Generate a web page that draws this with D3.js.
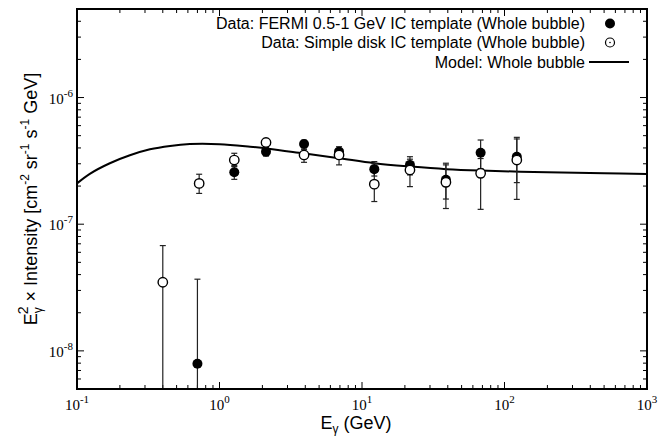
<!DOCTYPE html>
<html>
<head>
<meta charset="utf-8">
<script src="https://cdn.jsdelivr.net/npm/d3@7"></script>
<style>
  body { margin: 0; background: #fff; }
  svg { display: block; }
  .tick-label { font-family: "Liberation Serif", "DejaVu Serif", serif; font-size: 15px; }
  .txt { font-family: "Liberation Sans", Arial, sans-serif; font-size: 16px; }
  .title { font-family: "Liberation Sans", Arial, sans-serif; font-size: 18px; }
</style>
</head>
<body>
<svg id="plot1" width="666" height="436"></svg>
<script>
// model curve (GeV, E^2 x intensity)
var modelEnergy = [0.1, 0.123, 0.17, 0.235, 0.325, 0.45, 0.62, 1.0, 1.64, 2.2, 3.86, 6.9, 12.2, 22, 39, 68, 200, 500, 1000];
var modelValues = [2.10e-7, 2.50e-7, 3.03e-7, 3.50e-7, 3.90e-7, 4.15e-7, 4.29e-7, 4.28e-7, 4.09e-7, 3.95e-7, 3.63e-7, 3.32e-7, 3.03e-7, 2.85e-7, 2.72e-7, 2.65e-7, 2.57e-7, 2.52e-7, 2.49e-7];

// FERMI 0.5-1 GeV IC template (filled)
var fermiEnergy = [0.7, 1.27, 2.12, 3.92, 6.9, 12.2, 21.7, 38.8, 68, 122];
var fermiValues = [7.9e-9, 2.57e-7, 3.74e-7, 4.30e-7, 3.74e-7, 2.72e-7, 2.94e-7, 2.24e-7, 3.67e-7, 3.41e-7];
var fermiLow    = [1e-10, 2.26e-7, 3.45e-7, 4.0e-7, 3.35e-7, 2.4e-7, 2.45e-7, 1.58e-7, 2.75e-7, 2.13e-7];
var fermiHigh   = [3.68e-8, 2.9e-7, 4.05e-7, 4.6e-7, 4.09e-7, 3.12e-7, 3.41e-7, 2.94e-7, 4.62e-7, 4.71e-7];

// Simple disk IC template (open)
var diskEnergy = [0.4, 0.72, 1.27, 2.12, 3.92, 6.9, 12.2, 21.7, 38.8, 68, 122];
var diskValues = [3.48e-8, 2.10e-7, 3.21e-7, 4.42e-7, 3.52e-7, 3.52e-7, 2.07e-7, 2.68e-7, 2.14e-7, 2.52e-7, 3.21e-7];
var diskLow    = [1e-10, 1.75e-7, 2.85e-7, 4.1e-7, 3.08e-7, 2.94e-7, 1.51e-7, 1.98e-7, 1.33e-7, 1.31e-7, 1.57e-7];
var diskHigh   = [6.78e-8, 2.48e-7, 3.63e-7, 4.75e-7, 3.9e-7, 3.9e-7, 3.0e-7, 3.26e-7, 3.03e-7, 3.3e-7, 4.85e-7];

var xTickExp = [-1, 0, 1, 2, 3];
var yTickExp = [-8, -7, -6];

var legendLabels = ["Data: FERMI 0.5-1 GeV IC template (Whole bubble)",
                    "Data: Simple disk IC template (Whole bubble)",
                    "Model: Whole bubble"];

var svg = d3.select('#plot1');
var pLeft = 77, pRight = 647, pTop = 9, pBottom = 389;

var xScale = d3.scaleLog().domain([0.1, 1000]).range([pLeft, pRight]);
var yScale = d3.scaleLog().domain([5e-9, 5e-6]).range([pBottom, pTop]);

svg.append('clipPath').attr('id', 'clip')
  .append('rect').attr('x', pLeft).attr('y', pTop)
  .attr('width', pRight - pLeft).attr('height', pBottom - pTop);

// ticks (inward, on all four sides)
var xMajor = xTickExp.map(function(e){ return Math.pow(10, e); });
var xMinor = [];
for (var e = -1; e < 3; e++) for (var k = 2; k < 10; k++) xMinor.push(k * Math.pow(10, e));
var yMajor = yTickExp.map(function(e){ return Math.pow(10, e); });
var yMinor = [];
for (var e = -9; e < -5; e++) for (var k = 2; k < 10; k++) {
  var v = k * Math.pow(10, e);
  if (v >= 5e-9 && v <= 5e-6) yMinor.push(v);
}

var ticks = svg.append('g').attr('stroke', '#000').attr('stroke-width', 1);
function xTicks(vals, len) {
  vals.forEach(function(v){
    ticks.append('line').attr('x1', xScale(v)).attr('x2', xScale(v)).attr('y1', pBottom).attr('y2', pBottom - len);
    ticks.append('line').attr('x1', xScale(v)).attr('x2', xScale(v)).attr('y1', pTop).attr('y2', pTop + len);
  });
}
function yTicks(vals, len) {
  vals.forEach(function(v){
    ticks.append('line').attr('y1', yScale(v)).attr('y2', yScale(v)).attr('x1', pLeft).attr('x2', pLeft + len);
    ticks.append('line').attr('y1', yScale(v)).attr('y2', yScale(v)).attr('x1', pRight).attr('x2', pRight - len);
  });
}
xTicks(xMajor, 7); xTicks(xMinor, 4);
yTicks(yMajor, 7); yTicks(yMinor, 4);

// tick labels
xTickExp.forEach(function(e){
  var t = svg.append('text').attr('class', 'tick-label')
    .attr('x', xScale(Math.pow(10, e))).attr('y', 410).attr('text-anchor', 'middle');
  t.append('tspan').text('10');
  t.append('tspan').attr('dy', -7).attr('font-size', 11).text(e);
});
yTickExp.forEach(function(e){
  var t = svg.append('text').attr('class', 'tick-label')
    .attr('x', 73).attr('y', yScale(Math.pow(10, e)) + 6).attr('text-anchor', 'end');
  t.append('tspan').text('10');
  t.append('tspan').attr('dy', -7).attr('font-size', 11).text(e);
});

// model line
var line = d3.line()
  .x(function(d, i){ return xScale(modelEnergy[i]); })
  .y(function(d){ return yScale(d); })
  .curve(d3.curveCatmullRom);
svg.append('path').datum(modelValues)
  .attr('clip-path', 'url(#clip)')
  .attr('fill', 'none').attr('stroke', '#000').attr('stroke-width', 2)
  .attr('d', line);

// error bars
function errBars(en, lo, hi) {
  var g = svg.append('g').attr('clip-path', 'url(#clip)')
    .attr('stroke', '#222').attr('stroke-width', 1.2);
  en.forEach(function(x, i){
    var cx = xScale(x);
    g.append('line').attr('x1', cx).attr('x2', cx).attr('y1', yScale(lo[i])).attr('y2', yScale(hi[i]));
    g.append('line').attr('x1', cx - 3).attr('x2', cx + 3).attr('y1', yScale(hi[i])).attr('y2', yScale(hi[i]));
    g.append('line').attr('x1', cx - 3).attr('x2', cx + 3).attr('y1', yScale(lo[i])).attr('y2', yScale(lo[i]));
  });
}
errBars(fermiEnergy, fermiLow, fermiHigh);
errBars(diskEnergy, diskLow, diskHigh);

svg.append('g').selectAll('circle').data(fermiValues).enter().append('circle')
  .attr('cx', function(d, i){ return xScale(fermiEnergy[i]); })
  .attr('cy', function(d){ return yScale(d); })
  .attr('r', 5).attr('fill', '#000');

svg.append('g').selectAll('circle').data(diskValues).enter().append('circle')
  .attr('cx', function(d, i){ return xScale(diskEnergy[i]); })
  .attr('cy', function(d){ return yScale(d); })
  .attr('r', 4.7).attr('fill', '#fff').attr('stroke', '#000').attr('stroke-width', 1.4);

// frame
svg.append('rect').attr('x', pLeft).attr('y', pTop)
  .attr('width', pRight - pLeft).attr('height', pBottom - pTop)
  .attr('fill', 'none').attr('stroke', '#000').attr('stroke-width', 2);

// legend
var legY = [23.5, 42.5, 62];
legendLabels.forEach(function(s, i){
  svg.append('text').attr('class', 'txt').attr('x', 585).attr('y', legY[i] + 5.5)
    .attr('text-anchor', 'end').text(s);
});
svg.append('circle').attr('cx', 610).attr('cy', legY[0]).attr('r', 5).attr('fill', '#000');
svg.append('circle').attr('cx', 610).attr('cy', legY[1]).attr('r', 4.5)
  .attr('fill', '#fff').attr('stroke', '#000').attr('stroke-width', 1.2);
svg.append('circle').attr('cx', 610).attr('cy', legY[1]).attr('r', 0.8).attr('fill', '#000');
svg.append('line').attr('x1', 589).attr('x2', 629).attr('y1', legY[2]).attr('y2', legY[2])
  .attr('stroke', '#000').attr('stroke-width', 2);

// axis titles
var xt = svg.append('text').attr('class', 'title').attr('x', 356).attr('y', 429).attr('text-anchor', 'middle');
xt.append('tspan').text('E');
xt.append('tspan').attr('dy', 4).attr('font-size', 12).text('γ');
xt.append('tspan').attr('dy', -4).text(' (GeV)');

var yt = svg.append('text').attr('class', 'title').attr('text-anchor', 'middle')
  .attr('transform', 'translate(37,199) rotate(-90)');
yt.append('tspan').text('E');
yt.append('tspan').attr('dy', 5).attr('font-size', 12).text('γ');
yt.append('tspan').attr('dx', -7).attr('dy', -14).attr('font-size', 14).text('2');
yt.append('tspan').attr('dy', 9).text(' × Intensity [cm');
yt.append('tspan').attr('dy', -8).attr('font-size', 12).text('-2');
yt.append('tspan').attr('dy', 8).text(' sr');
yt.append('tspan').attr('dy', -8).attr('font-size', 12).text('-1');
yt.append('tspan').attr('dy', 8).text(' s');
yt.append('tspan').attr('dy', -8).attr('font-size', 12).text('-1');
yt.append('tspan').attr('dy', 8).text(' GeV]');
</script>
</body>
</html>
